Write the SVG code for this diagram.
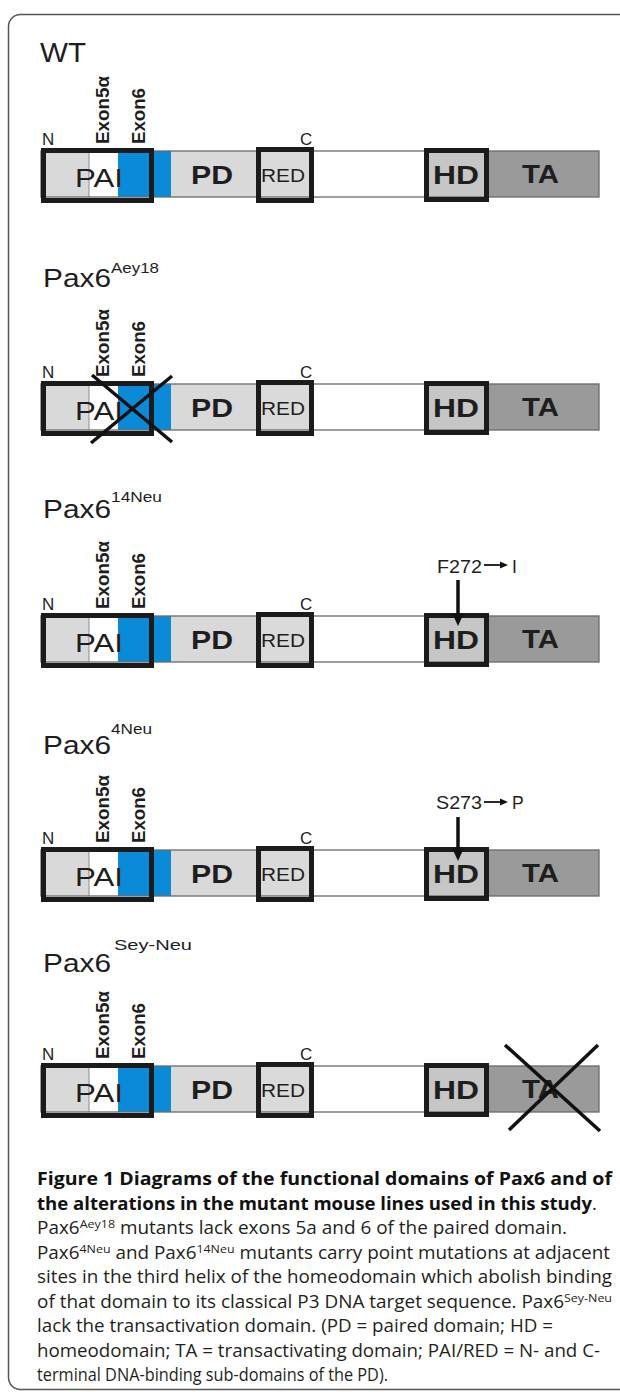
<svg xmlns="http://www.w3.org/2000/svg" xmlns:xlink="http://www.w3.org/1999/xlink" width="620" height="1392" viewBox="0 0 620 1392">
<style>
.t{font-family:"Liberation Sans",Arial,sans-serif;fill:#1e1e1e}
.title{font-size:25px}
.wt{font-size:27px}
.sup{font-size:15px}
.ex{font-size:18.5px;font-weight:bold}
.nc{font-size:17px}
.pai{font-size:25px}
.dom{font-size:25px;font-weight:bold}
.red{font-size:18px}
.mut{font-size:17.5px}
.cap{font-family:"Open Sans","Liberation Sans",sans-serif;font-size:17.5px;fill:#231f20}
.capb{font-weight:bold;fill:#111}
.cs{font-size:11.5px}
.thick{fill:none;stroke:#1b1b1b;stroke-width:5}
.cross{stroke:#111;stroke-width:3.5;stroke-linecap:butt}
.arr{stroke:#111;stroke-width:3.5}
</style>
<defs>
<g id="bar">
<rect x="41" y="3" width="558" height="46" fill="#fff"/>
<rect x="41" y="3" width="48" height="46" fill="#d9d9d9"/>
<rect x="118" y="3" width="53" height="46" fill="#0b8ad8"/>
<rect x="171" y="3" width="85" height="46" fill="#d9d9d9"/>
<rect x="256" y="3" width="58" height="46" fill="#dadada"/>
<rect x="424" y="3" width="65" height="46" fill="#c6c6c6"/>
<rect x="489" y="3" width="110" height="46" fill="#9a9a9a"/>
<line x1="89" y1="3" x2="89" y2="49" stroke="#8a8a8a" stroke-width="1"/>
<rect x="41" y="3" width="558" height="46" fill="none" stroke="#6a6a6a" stroke-width="1.3"/>
<rect class="thick" x="43.5" y="2.5" width="108" height="50"/>
<rect class="thick" x="258.5" y="1.5" width="53" height="51"/>
<rect class="thick" x="426.5" y="2.5" width="60" height="49"/>
</g>
</defs>

<rect id="frame" x="8.5" y="14.5" width="640" height="1375" rx="12" ry="12" fill="none" stroke="#555" stroke-width="1.5"/>

<g id="row-wt" transform="translate(0,148)">
<use xlink:href="#bar" href="#bar"/>
<text class="t wt" x="40" y="-86" textLength="46" lengthAdjust="spacingAndGlyphs">WT</text>
<text class="t nc" x="42" y="-3">N</text>
<text class="t nc" x="300" y="-3">C</text>
<text class="t ex" transform="translate(109,-4) rotate(-90)" textLength="68" lengthAdjust="spacingAndGlyphs">Exon5α</text>
<text class="t ex" transform="translate(145,-4) rotate(-90)" textLength="56" lengthAdjust="spacingAndGlyphs">Exon6</text>
<text class="t pai" x="75" y="39" textLength="48" lengthAdjust="spacingAndGlyphs">PAI</text>
<text class="t dom" x="191" y="36" textLength="42" lengthAdjust="spacingAndGlyphs">PD</text>
<text class="t red" x="261" y="34" textLength="44" lengthAdjust="spacingAndGlyphs">RED</text>
<text class="t dom" x="433" y="36" textLength="46" lengthAdjust="spacingAndGlyphs">HD</text>
<text class="t dom" x="522" y="35" textLength="37" lengthAdjust="spacingAndGlyphs">TA</text>
</g>

<g id="row-aey18" transform="translate(0,381)">
<use xlink:href="#bar" href="#bar"/>
<text class="t title" x="43" y="-94" textLength="68" lengthAdjust="spacingAndGlyphs">Pax6</text>
<text class="t sup" x="111" y="-108" textLength="48" lengthAdjust="spacingAndGlyphs">Aey18</text>
<text class="t nc" x="42" y="-3">N</text>
<text class="t nc" x="300" y="-3">C</text>
<text class="t ex" transform="translate(109,-4) rotate(-90)" textLength="68" lengthAdjust="spacingAndGlyphs">Exon5α</text>
<text class="t ex" transform="translate(145,-4) rotate(-90)" textLength="56" lengthAdjust="spacingAndGlyphs">Exon6</text>
<text class="t pai" x="75" y="39" textLength="48" lengthAdjust="spacingAndGlyphs">PAI</text>
<text class="t dom" x="191" y="36" textLength="42" lengthAdjust="spacingAndGlyphs">PD</text>
<text class="t red" x="261" y="34" textLength="44" lengthAdjust="spacingAndGlyphs">RED</text>
<text class="t dom" x="433" y="36" textLength="46" lengthAdjust="spacingAndGlyphs">HD</text>
<text class="t dom" x="522" y="35" textLength="37" lengthAdjust="spacingAndGlyphs">TA</text>
<line class="cross" x1="92" y1="-6" x2="172" y2="61"/>
<line class="cross" x1="172" y1="-5" x2="91" y2="62"/>
</g>

<g id="row-14neu" transform="translate(0,613)">
<use xlink:href="#bar" href="#bar"/>
<text class="t title" x="43" y="-95" textLength="68" lengthAdjust="spacingAndGlyphs">Pax6</text>
<text class="t sup" x="111" y="-111" textLength="51" lengthAdjust="spacingAndGlyphs">14Neu</text>
<text class="t nc" x="42" y="-3">N</text>
<text class="t nc" x="300" y="-3">C</text>
<text class="t ex" transform="translate(109,-4) rotate(-90)" textLength="68" lengthAdjust="spacingAndGlyphs">Exon5α</text>
<text class="t ex" transform="translate(145,-4) rotate(-90)" textLength="56" lengthAdjust="spacingAndGlyphs">Exon6</text>
<text class="t pai" x="75" y="39" textLength="48" lengthAdjust="spacingAndGlyphs">PAI</text>
<text class="t dom" x="191" y="36" textLength="42" lengthAdjust="spacingAndGlyphs">PD</text>
<text class="t red" x="261" y="34" textLength="44" lengthAdjust="spacingAndGlyphs">RED</text>
<text class="t dom" x="433" y="36" textLength="46" lengthAdjust="spacingAndGlyphs">HD</text>
<text class="t dom" x="522" y="35" textLength="37" lengthAdjust="spacingAndGlyphs">TA</text>
<text class="t mut" x="437" y="-40" textLength="45" lengthAdjust="spacingAndGlyphs">F272</text>
<line x1="484" y1="-48" x2="501" y2="-48" stroke="#111" stroke-width="1.8"/>
<polygon points="500,-51.5 508,-48 500,-44.5" fill="#111"/>
<text class="t mut" x="512" y="-40">I</text>
<line class="arr" x1="458" y1="-33" x2="458" y2="3"/>
<polygon points="452.5,1 463.5,1 458,13" fill="#111"/>
</g>

<g id="row-4neu" transform="translate(0,847)">
<use xlink:href="#bar" href="#bar"/>
<text class="t title" x="43" y="-93" textLength="68" lengthAdjust="spacingAndGlyphs">Pax6</text>
<text class="t sup" x="111" y="-113" textLength="41" lengthAdjust="spacingAndGlyphs">4Neu</text>
<text class="t nc" x="42" y="-3">N</text>
<text class="t nc" x="300" y="-3">C</text>
<text class="t ex" transform="translate(109,-4) rotate(-90)" textLength="68" lengthAdjust="spacingAndGlyphs">Exon5α</text>
<text class="t ex" transform="translate(145,-4) rotate(-90)" textLength="56" lengthAdjust="spacingAndGlyphs">Exon6</text>
<text class="t pai" x="75" y="39" textLength="48" lengthAdjust="spacingAndGlyphs">PAI</text>
<text class="t dom" x="191" y="36" textLength="42" lengthAdjust="spacingAndGlyphs">PD</text>
<text class="t red" x="261" y="34" textLength="44" lengthAdjust="spacingAndGlyphs">RED</text>
<text class="t dom" x="433" y="36" textLength="46" lengthAdjust="spacingAndGlyphs">HD</text>
<text class="t dom" x="522" y="35" textLength="37" lengthAdjust="spacingAndGlyphs">TA</text>
<text class="t mut" x="436" y="-38" textLength="46" lengthAdjust="spacingAndGlyphs">S273</text>
<line x1="484" y1="-45" x2="501" y2="-45" stroke="#111" stroke-width="1.8"/>
<polygon points="500,-48.5 508,-45 500,-41.5" fill="#111"/>
<text class="t mut" x="512" y="-38">P</text>
<line class="arr" x1="458" y1="-30" x2="458" y2="4"/>
<polygon points="452.5,2 463.5,2 458,14" fill="#111"/>
</g>

<g id="row-seyneu" transform="translate(0,1063)">
<use xlink:href="#bar" href="#bar"/>
<text class="t title" x="43" y="-91" textLength="68" lengthAdjust="spacingAndGlyphs">Pax6</text>
<text class="t sup" x="114" y="-113" textLength="78" lengthAdjust="spacingAndGlyphs">Sey-Neu</text>
<text class="t nc" x="42" y="-3">N</text>
<text class="t nc" x="300" y="-3">C</text>
<text class="t ex" transform="translate(109,-4) rotate(-90)" textLength="68" lengthAdjust="spacingAndGlyphs">Exon5α</text>
<text class="t ex" transform="translate(145,-4) rotate(-90)" textLength="56" lengthAdjust="spacingAndGlyphs">Exon6</text>
<text class="t pai" x="75" y="39" textLength="48" lengthAdjust="spacingAndGlyphs">PAI</text>
<text class="t dom" x="191" y="36" textLength="42" lengthAdjust="spacingAndGlyphs">PD</text>
<text class="t red" x="261" y="34" textLength="44" lengthAdjust="spacingAndGlyphs">RED</text>
<text class="t dom" x="433" y="36" textLength="46" lengthAdjust="spacingAndGlyphs">HD</text>
<text class="t dom" x="522" y="35" textLength="37" lengthAdjust="spacingAndGlyphs">TA</text>
<line class="cross" x1="505" y1="-18" x2="600" y2="68"/>
<line class="cross" x1="598" y1="-18" x2="509" y2="67"/>
</g>

<g id="caption">
<text class="cap capb" x="37" y="1185" textLength="575" lengthAdjust="spacingAndGlyphs">Figure 1 Diagrams of the functional domains of Pax6 and of</text>
<text class="cap" x="37" y="1209.5" textLength="560" lengthAdjust="spacingAndGlyphs"><tspan class="capb">the alterations in the mutant mouse lines used in this study</tspan>.</text>
<text class="cap" x="37" y="1234" textLength="530" lengthAdjust="spacingAndGlyphs">Pax6<tspan class="cs" dy="-6">Aey18</tspan><tspan dy="6"> mutants lack exons 5a and 6 of the paired domain.</tspan></text>
<text class="cap" x="37" y="1258.5" textLength="573" lengthAdjust="spacingAndGlyphs">Pax6<tspan class="cs" dy="-6">4Neu</tspan><tspan dy="6"> and Pax6</tspan><tspan class="cs" dy="-6">14Neu</tspan><tspan dy="6"> mutants carry point mutations at adjacent</tspan></text>
<text class="cap" x="37" y="1283" textLength="575" lengthAdjust="spacingAndGlyphs">sites in the third helix of the homeodomain which abolish binding</text>
<text class="cap" x="37" y="1307.5" textLength="575" lengthAdjust="spacingAndGlyphs">of that domain to its classical P3 DNA target sequence. Pax6<tspan class="cs" dy="-6">Sey-Neu</tspan></text>
<text class="cap" x="37" y="1332" textLength="516" lengthAdjust="spacingAndGlyphs">lack the transactivation domain. (PD = paired domain; HD =</text>
<text class="cap" x="37" y="1356.5" textLength="563" lengthAdjust="spacingAndGlyphs">homeodomain; TA = transactivating domain; PAI/RED = N- and C-</text>
<text class="cap" x="37" y="1381" textLength="351" lengthAdjust="spacingAndGlyphs">terminal DNA-binding sub-domains of the PD).</text>
</g>
</svg>
